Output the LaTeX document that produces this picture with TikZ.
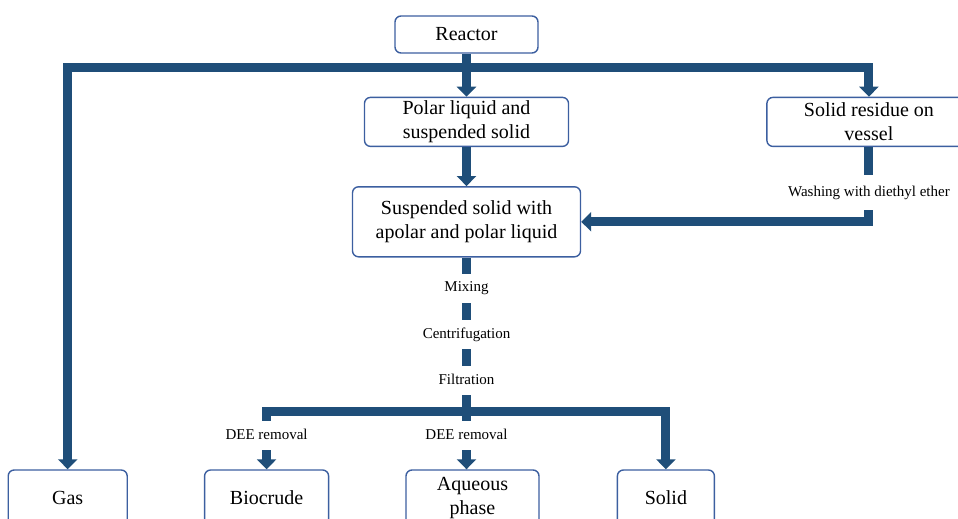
\documentclass[tikz,border=0pt]{standalone}
\usepackage{fontspec}
\setmainfont{Liberation Serif}
\usepackage{tikz}
\usepackage{xcolor}
\definecolor{PipeBlue}{RGB}{31,78,121}
\definecolor{BoxBlue}{RGB}{60,95,160}
\usetikzlibrary{positioning,arrows.meta}

\begin{document}
\begin{tikzpicture}[x=1pt, y=1pt,
    bx/.style={rectangle, draw=BoxBlue, line width=1.4pt, fill=white, rounded corners=6pt,
               align=center, inner sep=3pt, font=\fontsize{20}{23.5}\selectfont},
    lbl/.style={fill=white, inner xsep=2pt, inner ysep=8pt, text height=10pt, text depth=3pt,
               font=\fontsize{15}{17}\selectfont},
    pipe/.style={draw=PipeBlue, line width=9pt},
    a/.style={pipe, -{Triangle[length=10pt, width=19pt]}}
]
    \useasboundingbox (0,0) rectangle (958,-519);
    % upper part
    \node[bx, minimum width=143pt, minimum height=37pt] (reactor) at (466.5,-34.5) {Reactor};
    \node[bx, minimum width=204pt, minimum height=49pt, below=43pt of reactor] (polar) {Polar liquid and\\ suspended solid};
    \node[bx, minimum width=204pt, minimum height=49pt, right=197pt of polar] (residue) {Solid residue on\\ vessel};
    \node[bx, minimum width=228pt, minimum height=70pt, below=39pt of polar] (susp) {Suspended solid with\\ apolar and polar liquid};
    % products
    \node[bx, minimum width=133pt, minimum height=56pt] (aq) at (472.5,-498) {Aqueous\\ phase};
    \node[bx, minimum width=124pt, minimum height=56pt, left=76pt of aq] (bio) {Biocrude};
    \node[bx, minimum width=119pt, minimum height=56pt, left=76pt of bio] (gas) {Gas};
    \node[bx, minimum width=97pt, minimum height=56pt, right=77pt of aq] (solid) {Solid};

    \coordinate[below=14pt of reactor] (top);
    \coordinate[below=154pt of susp] (split);

    \draw[a] (reactor.south) -- (polar.north);
    \draw[a] (top) -| (gas.north);
    \draw[a] (top) -| (residue.north);
    \draw[a] (polar.south) -- (polar.south |- susp.north);
    \draw[a] (residue.south) -- node[lbl, inner ysep=11pt, pos=0.61]{Washing with diethyl ether}
        (residue.south |- susp.east) -- (susp.east);
    \draw[pipe] (susp.south) -- node[lbl, pos=0.2]{Mixing}
        node[lbl, pos=0.5]{Centrifugation}
        node[lbl, pos=0.8]{Filtration} (split);
    \draw[a] (split) -| node[lbl, pos=0.71]{DEE removal} (bio.north);
    \draw[a] (split) -- node[lbl, pos=0.42]{DEE removal} (split |- aq.north);
    \draw[a] (split) -| (solid.north);
\end{tikzpicture}
\end{document}
